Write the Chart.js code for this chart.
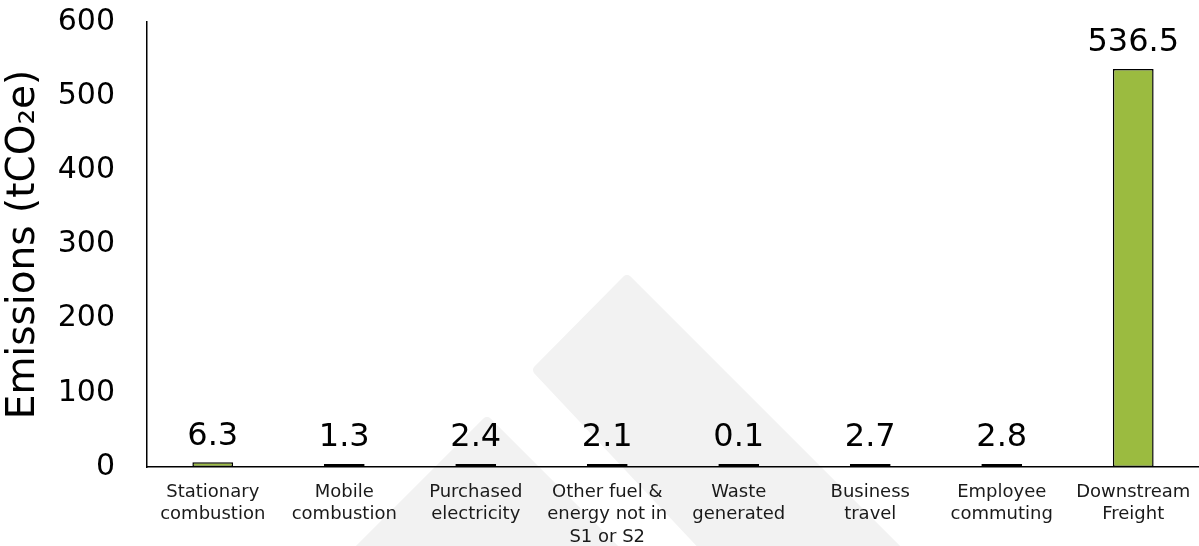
<!DOCTYPE html>
<html>
<head>
<meta charset="utf-8">
<script src="https://cdn.jsdelivr.net/npm/chart.js@4.4.0/dist/chart.umd.min.js"></script>
<style>
  html, body { margin: 0; padding: 0; background: #fff; }
  #wrap { width: 1199px; height: 546px; position: relative; }
</style>
</head>
<body>
<div id="wrap"><canvas id="myChart"></canvas></div>
<script>
// Chart data
const categories = [
    ['Stationary', 'combustion'],
    ['Mobile', 'combustion'],
    ['Purchased', 'electricity'],
    ['Other fuel &', 'energy not in', 'S1 or S2'],
    ['Waste', 'generated'],
    ['Business', 'travel'],
    ['Employee', 'commuting'],
    ['Downstream', 'Freight']
];
const emissions = [6.3, 1.3, 2.4, 2.1, 0.1, 2.7, 2.8, 536.5];
const yTicks = [0, 100, 200, 300, 400, 500, 600];

const FONT = '"DejaVu Sans", sans-serif';

// light grey logo behind the chart
const watermark = {
    id: 'watermark',
    beforeDraw(chart) {
        const c = chart.ctx;
        c.save();
        c.fillStyle = '#f2f2f2';
        c.lineJoin = 'round';
        c.strokeStyle = '#f2f2f2';
        c.lineWidth = 10;
        c.beginPath();
        c.moveTo(627, 280);
        c.lineTo(900, 553);
        c.lineTo(710, 553);
        c.lineTo(538, 370);
        c.closePath();
        c.fill();
        c.stroke();
        c.beginPath();
        c.moveTo(487, 422);
        c.lineTo(620, 555);
        c.lineTo(354, 555);
        c.closePath();
        c.fill();
        c.stroke();
        c.restore();
    }
};

// value labels above bars
const valueLabels = {
    id: 'valueLabels',
    afterDatasetsDraw(chart) {
        const c = chart.ctx;
        const meta = chart.getDatasetMeta(0);
        c.save();
        c.font = '32px ' + FONT;
        c.fillStyle = '#000';
        c.textAlign = 'center';
        c.textBaseline = 'bottom';
        meta.data.forEach((bar, i) => {
            c.fillText(emissions[i].toFixed(1), bar.x, bar.y - 10);
        });
        c.restore();
    }
};

const ctx = document.getElementById('myChart').getContext('2d');
const myChart = new Chart(ctx, {
    type: 'bar',
    data: {
        labels: categories,
        datasets: [{
            label: 'Emissions',
            data: emissions,
            backgroundColor: '#9bbb40',
            borderColor: '#000',
            borderWidth: 1.5,
            borderSkipped: false,
            minBarLength: 3,
            barPercentage: 0.31,
            categoryPercentage: 1.0
        }]
    },
    options: {
        responsive: true,
        maintainAspectRatio: false,
        animation: false,
        layout: { padding: { top: 22, right: 0, left: 0, bottom: 0 } },
        plugins: {
            legend: { display: false },
            tooltip: { enabled: false }
        },
        scales: {
            x: {
                grid: { display: false, drawTicks: true, tickLength: 12 },
                border: { color: '#000', width: 1.5 },
                ticks: {
                    color: '#1a1a1a',
                    font: { family: FONT, size: 18, lineHeight: 1.25 },
                    maxRotation: 0,
                    autoSkip: false,
                    padding: 2
                },
                afterFit(scale) { scale.height = 79; }
            },
            y: {
                min: 0,
                max: 600,
                afterBuildTicks(scale) { scale.ticks = yTicks.map(v => ({ value: v })); },
                grid: { display: false, drawTicks: true, tickLength: 30 },
                border: { color: '#000', width: 1.5 },
                ticks: {
                    color: '#000',
                    font: { family: FONT, size: 30 },
                    padding: 2
                },
                title: {
                    display: true,
                    text: 'Emissions (tCO\u2082e)',
                    color: '#000',
                    font: { family: FONT, size: 39 },
                    padding: 0
                },
                afterFit(scale) { scale.width = 147; }
            }
        }
    },
    plugins: [watermark, valueLabels]
});
</script>
</body>
</html>
